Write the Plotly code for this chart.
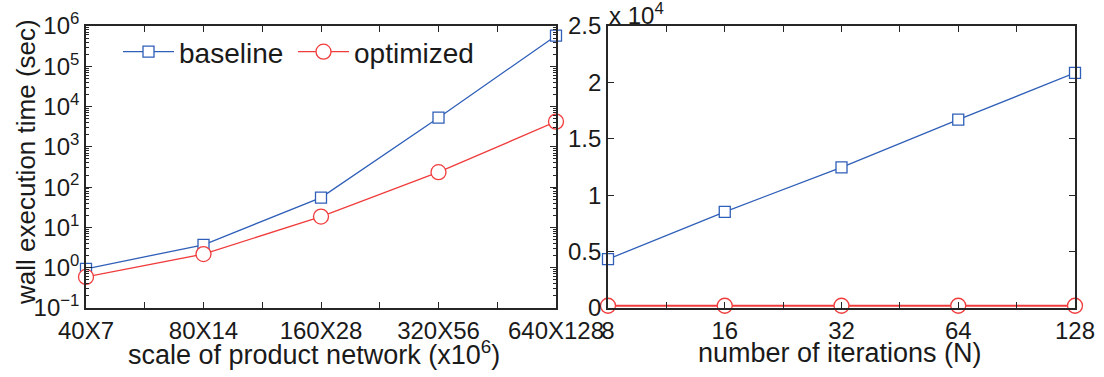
import plotly.graph_objects as go

# ---- data ----
scale_labels = ["40X7", "80X14", "160X28", "320X56", "640X128"]
scale_baseline = [0.94, 3.7, 55, 5300, 575000]
scale_optimized = [0.59, 2.18, 18.6, 235, 4230]

iter_labels = ["8", "16", "32", "64", "128"]
iter_baseline = [4330, 8530, 12460, 16700, 20840]
iter_optimized = [200, 200, 200, 200, 200]

log_tick_exps = [-1, 0, 1, 2, 3, 4, 5, 6]
lin_tick_vals = [0, 5000, 10000, 15000, 20000, 25000]
lin_tick_text = ["0", "0.5", "1", "1.5", "2", "2.5"]

BLUE = "#2f5fb8"
RED = "#f03c3c"
AX = "#262626"
TXT = "#1a1a1a"
FONT = "Liberation Sans, Arial, sans-serif"

W, H = 1104, 377

def fx(p):  # page x pixel -> paper fraction
    return p / W
def fy(p):  # page y pixel -> paper fraction
    return (H - p) / H

xs1 = list(range(len(scale_labels)))
xs2 = list(range(len(iter_labels)))

fig = go.Figure()

fig.add_trace(go.Scatter(
    x=xs1, y=scale_baseline, name="baseline", mode="lines+markers", legend="legend",
    line=dict(color=BLUE, width=1.3),
    marker=dict(symbol="square", size=11, color="white", line=dict(color=BLUE, width=1.3)),
    cliponaxis=False, xaxis="x", yaxis="y"))
fig.add_trace(go.Scatter(
    x=xs1, y=scale_optimized, name="optimized", mode="lines+markers", legend="legend2",
    line=dict(color=RED, width=1.3),
    marker=dict(symbol="circle", size=15, color="white", line=dict(color=RED, width=1.3)),
    cliponaxis=False, xaxis="x", yaxis="y"))

fig.add_trace(go.Scatter(
    x=xs2, y=iter_baseline, name="baseline", mode="lines+markers", showlegend=False,
    line=dict(color=BLUE, width=1.3),
    marker=dict(symbol="square", size=11, color="white", line=dict(color=BLUE, width=1.3)),
    cliponaxis=False, xaxis="x2", yaxis="y2"))
fig.add_trace(go.Scatter(
    x=xs2, y=iter_optimized, name="optimized", mode="lines+markers", showlegend=False,
    line=dict(color=RED, width=2),
    marker=dict(symbol="circle", size=15, color="white", line=dict(color=RED, width=1.3)),
    cliponaxis=False, xaxis="x2", yaxis="y2"))

common = dict(showline=True, linecolor=AX, linewidth=1.6, mirror="ticks",
              ticks="inside", tickcolor=AX, ticklen=6, tickwidth=1,
              showgrid=False, zeroline=False, automargin=False,
              tickfont=dict(family=FONT, size=24, color=TXT))

minor_log = []
for e in range(-1, 6):
    for m in range(2, 10):
        minor_log.append(m * 10 ** e)

def note(text, x, y, xanchor="center", yanchor="middle", size=27, angle=0):
    return dict(text=text, xref="paper", yref="paper", x=x, y=y,
                xanchor=xanchor, yanchor=yanchor, textangle=angle,
                showarrow=False, font=dict(family=FONT, size=size, color=TXT))

legend_common = dict(orientation="h", xanchor="left", yanchor="top",
                     bgcolor="rgba(0,0,0,0)", font=dict(family=FONT, size=28, color=TXT),
                     itemwidth=51)

fig.update_layout(
    width=W, height=H,
    margin=dict(l=0, r=0, t=0, b=0, autoexpand=False),
    paper_bgcolor="white", plot_bgcolor="white",
    font=dict(family=FONT, color=TXT),
    showlegend=True,
    legend=dict(x=fx(118), y=fy(27), **legend_common),
    legend2=dict(x=fx(293), y=fy(27), **legend_common),
    xaxis=dict(domain=[fx(86), fx(556)], range=[0, len(scale_labels) - 1],
               tickvals=xs1, ticktext=scale_labels,
               minor=dict(ticks="inside", ticklen=6, tickcolor=AX,
                          tickvals=[i + 0.5 for i in xs1[:-1]]),
               anchor="y", **common),
    yaxis=dict(domain=[fy(308), fy(26)], type="log", range=[-1, 6],
               tickvals=[10 ** e for e in log_tick_exps],
               ticktext=["10<sup>%s</sup>" % (str(e).replace("-", "\u2212")) for e in log_tick_exps],
               minor=dict(ticks="inside", ticklen=3, tickcolor=AX, tickvals=minor_log),
               anchor="x", **common),
    xaxis2=dict(domain=[fx(608), fx(1075)], range=[0, len(iter_labels) - 1],
                tickvals=xs2, ticktext=iter_labels,
                minor=dict(ticks="inside", ticklen=6, tickcolor=AX,
                           tickvals=[i + 0.5 for i in xs2[:-1]]),
                anchor="y2", **common),
    yaxis2=dict(domain=[fy(308), fy(26)], range=[0, 25000],
                tickvals=lin_tick_vals, ticktext=lin_tick_text,
                anchor="x2", **common),
    annotations=[
        note("wall execution time (sec)", fx(26), fy(162), angle=-90, size=26),
        note("scale of product network (x10<sup>6</sup>)", fx(314), fy(353)),
        note("number of iterations (N)", fx(840), fy(353)),
        note("x 10<sup>4</sup>", fx(607), fy(14), xanchor="left", yanchor="middle", size=24),
    ],
)

fig.write_html("out.html", config={"displayModeBar": False},
               post_script="document.body.style.margin='0';document.body.style.overflow='hidden';")
